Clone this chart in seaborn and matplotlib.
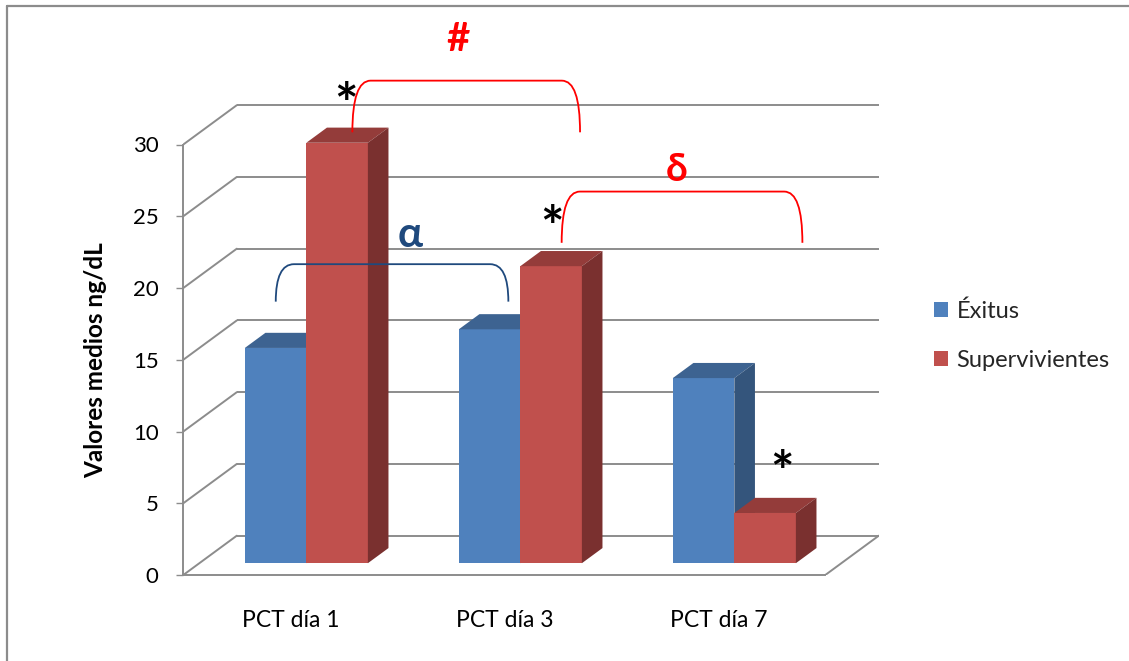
import matplotlib
matplotlib.use("Agg")
import matplotlib.pyplot as plt
from matplotlib.lines import Line2D
from matplotlib.patches import Patch, Polygon, PathPatch
from matplotlib.path import Path
import pandas as pd
import seaborn as sns

# ---- data -------------------------------------------------------------
categories = ["PCT día 1", "PCT día 3", "PCT día 7"]
groups = ["Éxitus", "Supervivientes"]
exitus = [15.0, 16.3, 12.9]
supervivientes = [29.3, 20.7, 3.5]
y_ticks = [0, 5, 10, 15, 20, 25, 30]
y_label = "Valores medios ng/dL"

# ---- styling ----------------------------------------------------------
front_colors = {"Éxitus": "#4f81bd", "Supervivientes": "#c0504d"}
top_colors = {"Éxitus": "#3d6391", "Supervivientes": "#943c3a"}
side_colors = {"Éxitus": "#34557c", "Supervivientes": "#7a302f"}
grid_color = "#8c8c8c"

# oblique projection of the depth axis (in data units)
DX, DY = 0.25, 2.74
BAR_FRONT = 0.30      # depth fraction where bar fronts sit
BAR_DEPTH = 0.385     # bar thickness as a fraction of full depth

df = pd.DataFrame({
    "categoria": categories * 2,
    "grupo": [groups[0]] * len(categories) + [groups[1]] * len(categories),
    "valor": exitus + supervivientes,
})

sns.set_theme(style="white")
plt.rcParams["font.family"] = ["Lato", "DejaVu Sans"]

W, H = 1129, 661
fig = plt.figure(figsize=(W / 100, H / 100), dpi=100)
fig.patch.set_facecolor("white")
ax = fig.add_axes([183.3 / W, 86 / H, 695.5 / W, 545.3 / H])
ax.set_facecolor("none")

sns.barplot(data=df, x="categoria", y="valor", hue="grupo",
            palette=front_colors, width=0.575, saturation=1,
            errorbar=None, ax=ax, legend=False)

ax.set_xlim(-0.5, 2.5 + DX)
ax.set_ylim(0, 38)

# back wall and side wall gridlines, floor edge
n = len(categories)
for v in y_ticks:
    ax.plot([-0.5 + DX, n - 0.5 + DX], [v + DY, v + DY], color=grid_color,
            lw=1.4, zorder=1, solid_capstyle="butt")
    ax.plot([-0.5, -0.5 + DX], [v, v + DY], color=grid_color, lw=1.4, zorder=1)
ax.plot([n - 0.5, n - 0.5 + DX], [0, DY], color=grid_color, lw=1.4, zorder=1)

# turn flat bars into boxes: shift fronts into depth, add top and side faces
ox, oy = BAR_FRONT * DX, BAR_FRONT * DY
tx, ty = BAR_DEPTH * DX, BAR_DEPTH * DY
for k, (grp, cont) in enumerate(zip(groups, ax.containers)):
    z = 2 + k
    for rect in cont.patches:
        x0 = rect.get_x() + ox
        w = rect.get_width()
        h = rect.get_height()
        rect.set_x(x0)
        rect.set_y(oy)
        rect.set_linewidth(0)
        rect.set_zorder(z)
        y1 = oy + h
        top = Polygon([(x0, y1), (x0 + w, y1), (x0 + w + tx, y1 + ty), (x0 + tx, y1 + ty)],
                      closed=True, facecolor=top_colors[grp], edgecolor="none", zorder=z)
        side = Polygon([(x0 + w, oy), (x0 + w + tx, oy + ty), (x0 + w + tx, y1 + ty), (x0 + w, y1)],
                       closed=True, facecolor=side_colors[grp], edgecolor="none", zorder=z)
        ax.add_patch(top)
        ax.add_patch(side)

# axes lines and ticks
for s in ["top", "right"]:
    ax.spines[s].set_visible(False)
ax.spines["left"].set_bounds(0, 30)
ax.spines["bottom"].set_bounds(-0.5, n - 0.5)
for s in ["left", "bottom"]:
    ax.spines[s].set_color(grid_color)
    ax.spines[s].set_linewidth(1.4)
    ax.spines[s].set_zorder(1)

ax.set_yticks(y_ticks)
ax.set_yticklabels([str(t) for t in y_ticks])
ax.tick_params(axis="y", direction="out", length=4.8, width=1.0, color=grid_color,
               pad=13, labelsize=16, labelcolor="black", left=True)
ax.set_xticks(range(n))
ax.set_xticklabels(categories)
ax.tick_params(axis="x", length=0, pad=25, labelsize=16.5, labelcolor="black")
ax.set_xlabel("")
ax.set_ylabel(y_label, fontsize=17.5, fontweight="bold", color="black")
ax.yaxis.set_label_coords(-0.1097, 15 / 38)
ax.grid(False)

# legend
handles = [Patch(facecolor=front_colors[g], edgecolor="none") for g in groups]
fig.legend(handles, groups, loc="center left", bbox_to_anchor=(934 / W, 1 - 335.5 / H),
           frameon=False, fontsize=17, handlelength=0.6, handleheight=0.6,
           handletextpad=0.35, labelspacing=1.2, borderpad=0, borderaxespad=0)

# significance brackets
def bracket(x0, x1, yb, yt, color, r=0.085):
    verts = [(x0, yb), (x0, yt), (x0 + r, yt), (x1 - r, yt), (x1, yt), (x1, yb)]
    codes = [Path.MOVETO, Path.CURVE3, Path.CURVE3, Path.LINETO, Path.CURVE3, Path.CURVE3]
    ax.add_patch(PathPatch(Path(verts, codes), facecolor="none", edgecolor=color,
                           lw=1.3, zorder=5, clip_on=False))

red, navy = "#ff0000", "#1f497d"
bracket(0.29, 1.354, 30.85, 34.45, red)
bracket(1.268, 2.393, 23.15, 26.72, red)
bracket(-0.068, 1.019, 19.05, 21.66, navy)

txt = dict(ha="center", va="baseline", fontweight="bold", zorder=6, clip_on=False)
ax.text(0.784, 36.55, "#", color=red, fontsize=29, **txt)
ax.text(1.806, 27.45, "δ", color=red, fontsize=28, **txt)
ax.text(0.559, 22.88, "α", color=navy, fontsize=30, **txt)
for sx, sy in [(0.259, 31.52), (1.224, 22.93), (2.296, 5.85)]:
    ax.text(sx, sy, "*", color="black", fontsize=40, **txt)

# chart area border (top and left edges)
fig.add_artist(Line2D([6.5 / W, 6.5 / W], [0, 1 - 5.5 / H], transform=fig.transFigure,
                      color=grid_color, lw=1.6))
fig.add_artist(Line2D([6.5 / W, 1], [1 - 5.5 / H, 1 - 5.5 / H], transform=fig.transFigure,
                      color=grid_color, lw=1.6))

fig.savefig("out.png", dpi=100)
